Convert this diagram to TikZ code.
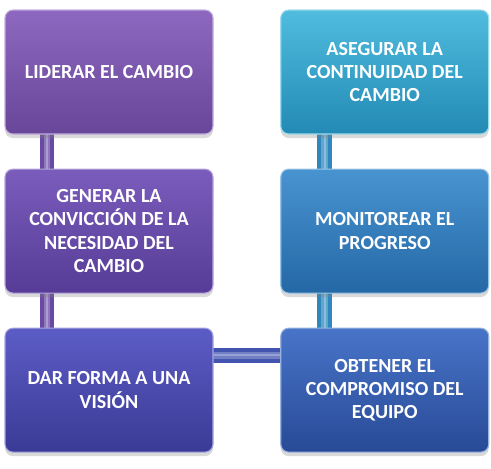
\documentclass[tikz,border=0pt]{standalone}
\usepackage{fontspec}
\setmainfont{Carlito}
\usetikzlibrary{positioning,shadows,backgrounds}
\definecolor{lidtop}{RGB}{142,104,192}
\definecolor{lidbot}{RGB}{104,70,152}
\definecolor{gentop}{RGB}{122,92,188}
\definecolor{genbot}{RGB}{86,60,150}
\definecolor{dartop}{RGB}{92,92,198}
\definecolor{darbot}{RGB}{58,58,150}
\definecolor{obttop}{RGB}{72,116,200}
\definecolor{obtbot}{RGB}{40,74,150}
\definecolor{montop}{RGB}{72,148,208}
\definecolor{monbot}{RGB}{36,104,166}
\definecolor{asetop}{RGB}{80,188,222}
\definecolor{asebot}{RGB}{34,138,180}
\definecolor{barpur}{RGB}{104,74,164}
\definecolor{barblu}{RGB}{66,84,176}
\definecolor{barcya}{RGB}{46,136,190}
\tikzset{
  stepbox/.style={rectangle,rounded corners=6pt,
    minimum width=156pt,minimum height=93pt,inner sep=4pt,
    align=center,text=white,line width=0.8pt,
    font=\fontsize{15}{17.5}\selectfont\bfseries,
    drop shadow={opacity=0.3,shadow xshift=0pt,shadow yshift=-3pt}},
  lidbox/.style={stepbox,top color=lidtop,bottom color=lidbot,draw=lidtop!55!white},
  genbox/.style={stepbox,top color=gentop,bottom color=genbot,draw=gentop!55!white},
  darbox/.style={stepbox,top color=dartop,bottom color=darbot,draw=dartop!55!white},
  obtbox/.style={stepbox,top color=obttop,bottom color=obtbot,draw=obttop!55!white},
  monbox/.style={stepbox,top color=montop,bottom color=monbot,draw=montop!55!white},
  asebox/.style={stepbox,top color=asetop,bottom color=asebot,draw=asetop!55!white},
  bar/.style={line width=11pt,draw=#1,
    postaction={draw=#1!75!white,line width=5pt},
    postaction={draw=#1!55!white,line width=1.5pt}},
}

\begin{document}
\begin{tikzpicture}[x=0.75pt,y=-0.75pt,node distance=25.5pt and 50pt]
  \useasboundingbox (0,0) rectangle (491,468);

  \node[lidbox] (lid) at (109,72) {LIDERAR EL CAMBIO};
  \node[genbox,below=of lid] (gen) {GENERAR LA\\CONVICCIÓN DE LA\\NECESIDAD DEL\\CAMBIO};
  \node[darbox,below=of gen] (dar) {DAR FORMA A UNA\\VISIÓN};
  \node[obtbox,right=of dar] (obt) {OBTENER EL\\COMPROMISO DEL\\EQUIPO};
  \node[monbox,above=of obt] (mon) {MONITOREAR EL\\PROGRESO};
  \node[asebox,above=of mon] (ase) {ASEGURAR LA\\CONTINUIDAD DEL\\CAMBIO};

  % bars behind the boxes
  \begin{scope}[on background layer]
    \draw[bar=barpur] ([xshift=-46.5pt]lid.center) -- ([xshift=-46.5pt]dar.center);
    \draw[bar=barblu] ([yshift=26pt]dar.center) -- ([yshift=26pt]obt.center);
    \draw[bar=barcya] ([xshift=-45pt]ase.center) -- ([xshift=-45pt]obt.center);
  \end{scope}

\end{tikzpicture}
\end{document}
